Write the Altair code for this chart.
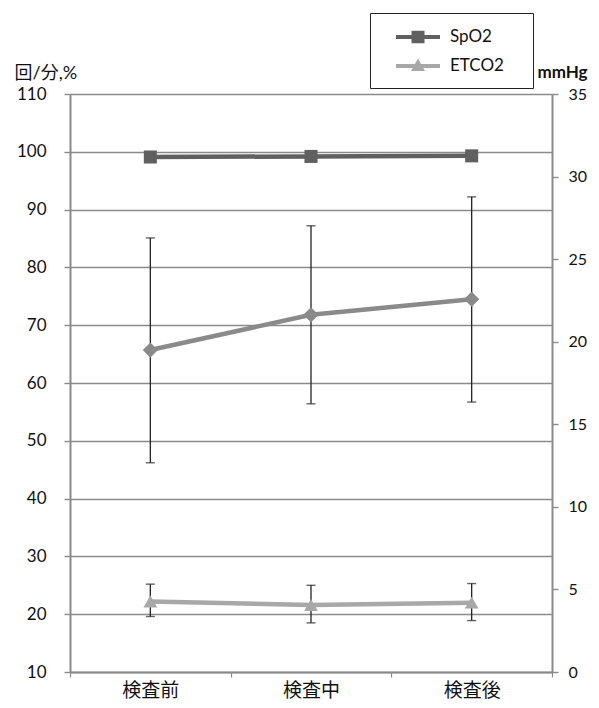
import altair as alt
import pandas as pd

categories = ["検査前", "検査中", "検査後"]
spo2 = [99.1, 99.2, 99.3]
pulse = [65.7, 71.8, 74.5]
pulse_lo = [46.2, 56.4, 56.7]
pulse_hi = [85.1, 87.2, 92.2]
etco2 = [22.2, 21.6, 22.0]
etco2_lo = [19.6, 18.5, 18.9]
etco2_hi = [25.2, 25.0, 25.3]
left_ticks = list(range(10, 111, 10))
right_ticks = list(range(0, 36, 5))
legend_names = ["SpO2", "ETCO2"]

FONT = "Lato, Noto Sans CJK JP, sans-serif"
AX = "#8a8a8a"

df_spo2 = pd.DataFrame({"cat": categories, "v": spo2})
df_pulse = pd.DataFrame({"cat": categories, "v": pulse, "lo": pulse_lo, "hi": pulse_hi})
df_et = pd.DataFrame({"cat": categories, "v": etco2, "lo": etco2_lo, "hi": etco2_hi})
df_leg = pd.DataFrame({"cat": categories[:2], "v": [spo2[0], etco2[0]], "s": legend_names})
df_right = pd.DataFrame({"cat": [categories[0]] * len(right_ticks), "r": right_ticks})

xenc = alt.X("cat:N", sort=categories, title=None,
             scale=alt.Scale(paddingInner=0, paddingOuter=0),
             axis=alt.Axis(labelAngle=0, labelFontSize=19, labelFont=FONT, labelColor="#111",
                           labelPadding=4, tickSize=5, tickColor=AX, tickWidth=1.2,
                           domainColor=AX, domainWidth=2, tickBand="extent", grid=False))
yscale = alt.Scale(domain=[10, 110], nice=False, zero=False)
yaxis = alt.Axis(values=left_ticks, grid=True, gridColor=AX, gridWidth=1.4,
                 domainColor=AX, domainWidth=2, tickColor=AX, tickWidth=1.4, tickSize=6,
                 labelFontSize=17, labelFont=FONT, labelColor="#111", labelPadding=18,
                 title="回/分,%", titleAngle=0, titleAlign="left", titleX=-56, titleY=-16,
                 titleBaseline="alphabetic", titleFont=FONT, titleFontSize=18,
                 titleFontWeight="normal", titleColor="#111")


def series(df, color, shape, size, err=False):
    base = alt.Chart(df)
    layers = []
    if err:
        layers.append(base.mark_rule(color="#222", strokeWidth=1.3).encode(
            x=xenc, y=alt.Y("lo:Q", scale=yscale, axis=yaxis), y2="hi:Q"))
        layers.append(base.mark_tick(color="#222", thickness=1.4, size=9).encode(
            x=xenc, y=alt.Y("lo:Q", scale=yscale, axis=yaxis)))
        layers.append(base.mark_tick(color="#222", thickness=1.4, size=9).encode(
            x=xenc, y=alt.Y("hi:Q", scale=yscale, axis=yaxis)))
    layers.append(base.mark_line(color=color, strokeWidth=4.5).encode(
        x=xenc, y=alt.Y("v:Q", scale=yscale, axis=yaxis)))
    layers.append(base.mark_point(color=color, filled=True, opacity=1, shape=shape, size=size).encode(
        x=xenc, y=alt.Y("v:Q", scale=yscale, axis=yaxis)))
    return layers


# legend glyphs: a line with a marker in the middle (units of 10 px at symbolSize 400);
# the trailing moveTo only widens the glyph's bounds so the legend box is as wide as the original
path_sq = "M-2.2,-0.2L2.2,-0.2L2.2,0.2L-2.2,0.2Z M-0.65,-0.62L0.65,-0.62L0.65,0.62L-0.65,0.62Z M10.1,0"
path_tri = "M-2.2,-0.2L2.2,-0.2L2.2,0.2L-2.2,0.2Z M0,-0.75L0.7,0.5L-0.7,0.5Z M10.1,0"

legend_layer = alt.Chart(df_leg).mark_point(filled=True, opacity=0).encode(
    x=xenc,
    y=alt.Y("v:Q", scale=yscale, axis=yaxis),
    shape=alt.Shape("s:N", sort=legend_names,
                    scale=alt.Scale(domain=legend_names, range=[path_sq, path_tri]),
                    legend=alt.Legend(title=None, orient="none", legendX=300, legendY=-81,
                                      strokeColor="#222", fillColor="white", padding=14,
                                      symbolSize=400, symbolStrokeWidth=0, symbolOpacity=1,
                                      symbolOffset=24,
                                      labelFontSize=17, labelFont=FONT, labelColor="#111",
                                      labelOffset=22, rowPadding=11)),
    color=alt.Color("s:N", sort=legend_names,
                    scale=alt.Scale(domain=legend_names, range=["#606060", "#a8a8a8"]),
                    legend=alt.Legend(title=None, orient="none", legendX=300, legendY=-81)),
)

left = alt.layer(
    *series(df_pulse, "#8a8a8a", "diamond", 230, err=True),
    *series(df_et, "#a8a8a8", "triangle-up", 190, err=True),
    *series(df_spo2, "#606060", "square", 170),
    legend_layer,
)

right = alt.Chart(df_right).mark_point(opacity=0).encode(
    x=xenc,
    y=alt.Y("r:Q", scale=alt.Scale(domain=[0, 35], nice=False, zero=False),
            axis=alt.Axis(orient="right", values=right_ticks, grid=False,
                          domainColor=AX, domainWidth=2, tickColor=AX, tickWidth=1.4, tickSize=6,
                          labelFontSize=16, labelFont=FONT, labelColor="#111", labelPadding=10,
                          title="mmHg", titleAngle=0, titleAlign="left", titleX=-15, titleY=-17,
                          titleBaseline="alphabetic", titleFont=FONT, titleFontSize=17,
                          titleFontWeight="bold", titleColor="#111")),
)

chart = alt.layer(left, right).resolve_scale(y="independent").properties(
    width=482, height=578,
    autosize=alt.AutoSizeParams(type="none"),
    padding={"left": 62, "top": 86, "right": 39, "bottom": 28},
).configure_view(stroke=None).configure(background="white")

chart.save("out.html", embed_options={"renderer": "svg", "actions": False})
